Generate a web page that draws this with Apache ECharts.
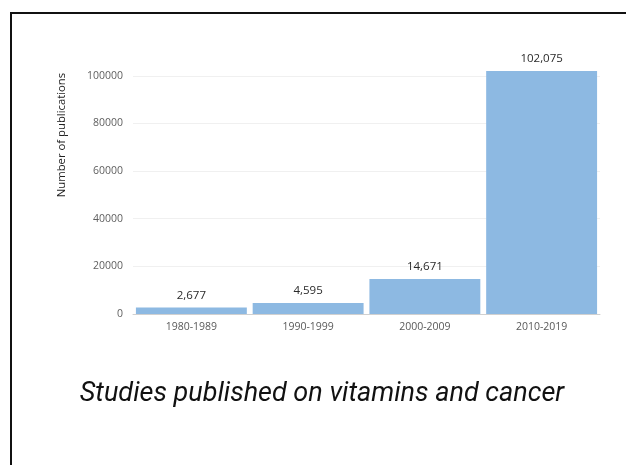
<!DOCTYPE html>
<html>
<head>
<meta charset="utf-8">
<script src="https://cdn.jsdelivr.net/npm/echarts@6/dist/echarts.min.js"></script>
<style>
  html, body { margin: 0; padding: 0; background: #fff; }
  #chart { width: 626px; height: 465px; }
</style>
</head>
<body>
<div id="chart"></div>
<script>
// Decades and publication counts
const decades = ['1980-1989', '1990-1999', '2000-2009', '2010-2019'];
const publications = [2677, 4595, 14671, 102075];

const yMax = 110000;
const yStep = 20000;

// gridline colours cycle per tick; the line at the axis end stays hidden
const gridColors = ['#f0f0f0', '#f0f0f0', '#f0f0f0', '#f0f0f0', '#f0f0f0', '#f0f0f0', 'rgba(0,0,0,0)'];

const chart = echarts.init(document.getElementById('chart'), null, { renderer: 'canvas' });

chart.setOption({
  animation: false,
  backgroundColor: '#ffffff',
  grid: { left: 133, right: 26, top: 52, bottom: 151 },
  graphic: [
    // outer frame
    {
      type: 'rect',
      shape: { x: 11, y: 13, width: 640, height: 480 },
      style: { fill: 'none', stroke: '#111', lineWidth: 2 }
    },
    {
      type: 'text',
      x: 62, y: 135,
      rotation: Math.PI / 2,
      style: {
        text: 'Number of publications',
        font: '11.3px "Open Sans"',
        fill: '#222',
        align: 'center',
        verticalAlign: 'middle'
      }
    },
    {
      type: 'text',
      x: 322, y: 394,
      style: {
        text: 'Studies published on vitamins and cancer',
        font: 'italic 27px Roboto',
        fill: '#111',
        align: 'center',
        verticalAlign: 'middle'
      }
    }
  ],
  xAxis: {
    type: 'category',
    data: decades,
    axisLine: { lineStyle: { color: '#d0d0d0', width: 1 } },
    axisTick: { show: false },
    axisLabel: { color: '#595959', fontSize: 10.5, fontFamily: 'Open Sans', margin: 8 }
  },
  yAxis: {
    type: 'value',
    min: 0,
    max: yMax,
    interval: yStep,
    axisLine: { show: false },
    axisTick: { show: false },
    axisLabel: {
      color: '#5f5f5f', fontSize: 10.5, fontFamily: 'Open Sans', margin: 10,
      showMaxLabel: false,
      formatter: v => String(v)
    },
    splitLine: { show: true, lineStyle: { color: gridColors, width: 1 } }
  },
  series: [
    {
      type: 'bar',
      data: publications,
      barCategoryGap: '5%',
      itemStyle: { color: '#8db9e2' },
      label: {
        show: true,
        position: 'top',
        distance: 6,
        color: '#2a2a2a',
        fontSize: 11.5,
        fontFamily: 'Open Sans',
        formatter: p => p.value.toLocaleString('en-US')
      }
    }
  ]
});
</script>
</body>
</html>
